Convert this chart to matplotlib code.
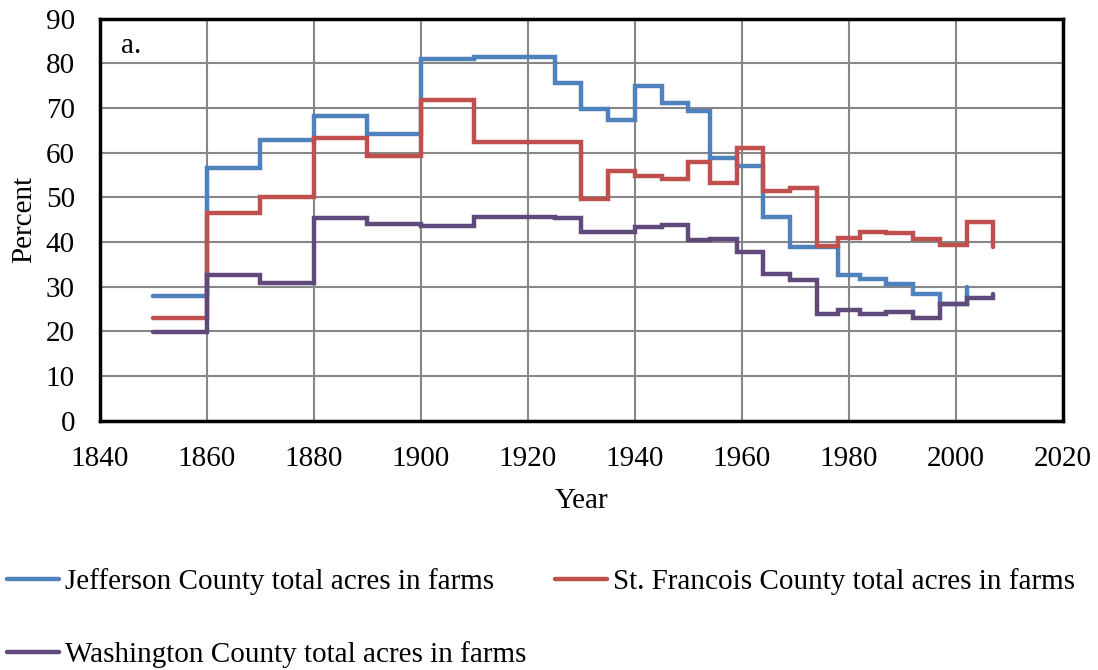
import matplotlib
matplotlib.use('Agg')
import matplotlib.pyplot as plt

# Census years (step data, held until next census)
years = [1850, 1860, 1870, 1880, 1890, 1900, 1910, 1920, 1925, 1930, 1935,
         1940, 1945, 1950, 1954, 1959, 1964, 1969, 1974, 1978, 1982, 1987,
         1992, 1997, 2002, 2007]

jefferson = [28.0, 56.5, 62.8, 68.2, 64.1, 81.0, 81.5, 81.5, 75.7, 69.8, 67.3,
             75.0, 71.2, 69.4, 58.8, 57.0, 45.7, 38.9, 38.9, 32.7, 31.7, 30.7,
             28.4, 26.2, 30.0]
st_francois = [23.0, 46.5, 50.0, 63.3, 59.2, 71.7, 62.4, 62.4, 62.5, 49.6, 55.9,
               54.8, 54.1, 57.9, 53.2, 61.0, 51.5, 52.1, 39.2, 40.9, 42.2, 42.0,
               40.6, 39.3, 44.6, 39.0]
washington = [19.8, 32.7, 30.9, 45.3, 44.0, 43.7, 45.7, 45.7, 45.5, 42.2, 42.3,
              43.3, 43.9, 40.5, 40.6, 37.8, 32.9, 31.6, 23.8, 24.8, 23.8, 24.4,
              23.1, 26.1, 27.5, 28.3]

labels = ['Jefferson County total acres in farms',
          'St. Francois County total acres in farms',
          'Washington County total acres in farms']
colors = ['#4F81BD', '#C0504D', '#5F4A7B']

plt.rcParams['font.family'] = ['Liberation Serif', 'DejaVu Serif']
fs = 21

fig = plt.figure(figsize=(10.98, 6.7), dpi=100)
ax = fig.add_axes([0.091, 0.372, 0.877, 0.600])

kw = dict(where='post', lw=3.2, solid_capstyle='round', solid_joinstyle='miter')
lj, = ax.step(years[:len(jefferson)], jefferson, color=colors[0], label=labels[0], **kw)
ls, = ax.step(years, st_francois, color=colors[1], label=labels[1], **kw)
lw, = ax.step(years, washington, color=colors[2], label=labels[2], **kw)

ax.set_xlim(1840, 2020)
ax.set_ylim(0, 90)
ax.set_xticks(range(1840, 2021, 20))
ax.set_yticks(range(0, 91, 10))
ax.grid(True, color='#878787', lw=1.5)
ax.set_axisbelow(True)
ax.tick_params(length=0, labelsize=fs)
ax.tick_params(axis='x', pad=18)
ax.tick_params(axis='y', pad=18)
for s in ax.spines.values():
    s.set_linewidth(2.5)
    s.set_color('black')

ax.set_xlabel('Year', fontsize=fs, labelpad=12)
ax.set_ylabel('Percent', fontsize=fs, labelpad=6)
ax.text(0.022, 0.965, 'a.', transform=ax.transAxes, fontsize=fs, va='top')

# column-major fill: put Washington under Jefferson, St. Francois on the right
fig.legend([lj, lw, ls], [labels[0], labels[2], labels[1]],
           loc='upper left', bbox_to_anchor=(0.006, 0.152), ncol=2,
           frameon=False, fontsize=fs, handlelength=1.8, handletextpad=0.2,
           columnspacing=0.97, labelspacing=1.58, borderpad=0, borderaxespad=0)

fig.savefig('out.png', dpi=100)
